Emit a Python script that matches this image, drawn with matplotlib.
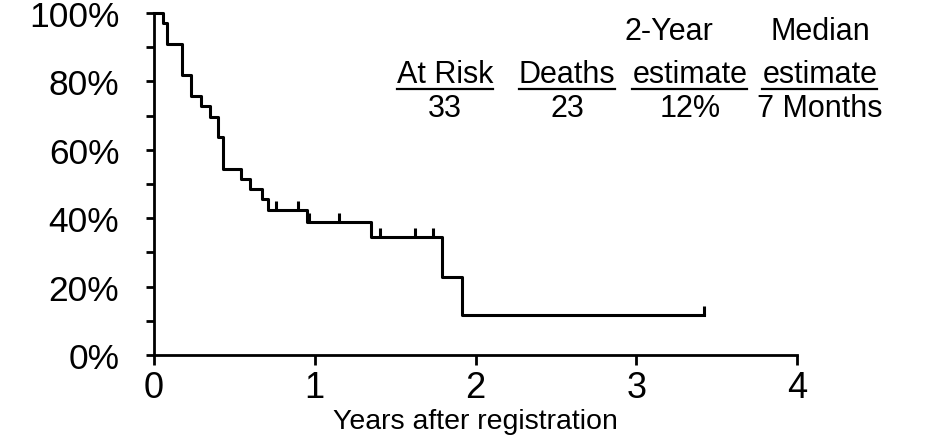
import matplotlib
matplotlib.use("Agg")
import matplotlib.pyplot as plt
import numpy as np
from matplotlib.lines import Line2D
from matplotlib.ticker import MultipleLocator, FuncFormatter

plt.rcParams['font.family'] = ['Liberation Sans', 'DejaVu Sans']

# Kaplan-Meier steps (years, survival after the drop)
drop_times = [0.0, 0.058, 0.079, 0.172, 0.230, 0.292, 0.348, 0.396, 0.431,
              0.541, 0.597, 0.674, 0.708, 0.954, 1.348, 1.790, 1.915]
surv = [1.0, 0.970, 0.909, 0.818, 0.758, 0.727, 0.697, 0.636, 0.545,
        0.515, 0.485, 0.455, 0.424, 0.390, 0.346, 0.229, 0.117]
last_followup = 3.422
censor_times = [0.759, 0.894, 0.966, 1.153, 1.406, 1.624, 1.734, 3.422]

# summary table
col_top = ["", "", "2-Year", "Median"]
col_head = ["At Risk", "Deaths", "estimate", "estimate"]
col_vals = ["33", "23", "12%", "7 Months"]
col_x_px = [445, 567, 690, 820]
top_x_px = [445, 567, 669, 820]

W, H = 937, 439
fig = plt.figure(figsize=(W / 100, H / 100), dpi=100)
ax = fig.add_axes([154 / W, 83 / H, (797 - 154) / W, (356 - 14) / H])

t = drop_times + [last_followup]
s = surv + [surv[-1]]
ax.step(t, s, where='post', color='black', lw=2.2, clip_on=False)

# censor marks
idx = np.searchsorted(drop_times, censor_times, side='right') - 1
levels = np.array(surv)[idx]
ax.vlines(censor_times, levels, levels + 0.025, color='black', lw=2.2, clip_on=False)

ax.set_xlim(0, 4)
ax.set_ylim(0, 1)
for side in ['top', 'right']:
    ax.spines[side].set_visible(False)
for side in ['left', 'bottom']:
    ax.spines[side].set_linewidth(2.0)

ax.set_xticks([0, 1, 2, 3, 4])
ax.yaxis.set_major_locator(MultipleLocator(0.2))
ax.yaxis.set_minor_locator(MultipleLocator(0.1))
ax.yaxis.set_major_formatter(FuncFormatter(lambda v, p: "%d%%" % round(v * 100)))
ax.tick_params(axis='y', which='both', length=6, width=2.0, pad=19, labelsize=25.5)
ax.tick_params(axis='x', length=7, width=2.0, pad=4, labelsize=26)
ax.set_xlabel("Years after registration", fontsize=20.5, labelpad=2)

texts = []
for i in range(4):
    if col_top[i]:
        fig.text(top_x_px[i] / W, 1 - 40 / H, col_top[i], ha='center', va='baseline', fontsize=22)
    h = fig.text(col_x_px[i] / W, 1 - 83 / H, col_head[i], ha='center', va='baseline', fontsize=22)
    texts.append(h)
    fig.text(col_x_px[i] / W, 1 - 117 / H, col_vals[i], ha='center', va='baseline', fontsize=22)

# underline the column headers
fig.canvas.draw()
r = fig.canvas.get_renderer()
for h in texts:
    bb = h.get_window_extent(r)
    y = 1 - 90 / H
    fig.add_artist(Line2D([bb.x0 / W, bb.x1 / W], [y, y], transform=fig.transFigure,
                          color='black', lw=1.6))

fig.savefig("out.png", dpi=100, facecolor='white')
